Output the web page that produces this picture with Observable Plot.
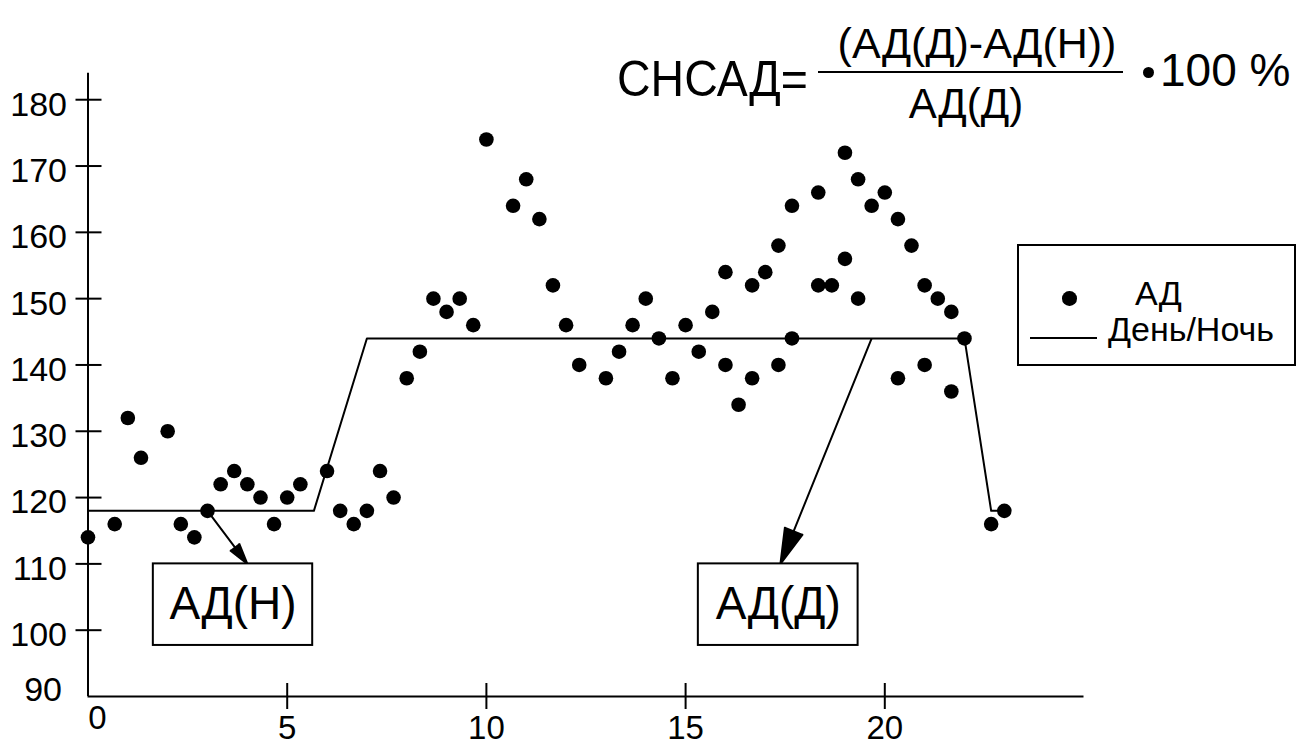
<!DOCTYPE html>
<html><head><meta charset="utf-8">
<script src="https://cdn.jsdelivr.net/npm/d3@7"></script>
<script src="https://cdn.jsdelivr.net/npm/@observablehq/plot@0.6"></script>
<style>
body{margin:0;background:#fff;}
#wrap{position:relative;width:1307px;height:742px;font-family:"Liberation Sans",Arial,sans-serif;color:#000;overflow:hidden;}
.t{position:absolute;line-height:1;white-space:nowrap;}
</style></head><body><div id="wrap"></div>
<script>
// Blood pressure readings (hour of day, mmHg)
const hours = [0,0.67,1,1.33,2,2.33,2.67,3,3.33,3.67,4,4.33,4.67,5,5.33,6,6.33,6.67,7,7.33,7.67,
  8,8.33,8.67,9,9.33,9.67,10,10.67,11,11.33,11.67,12,12.33,13,13.33,13.67,14,14.33,14.67,15,15.33,15.67,
  16,16,16.33,16.67,16.67,17,17.33,17.33,17.67,17.67,18.33,18.33,18.67,19,19,19.33,19.33,19.67,20,
  20.33,20.33,20.67,21,21,21.33,21.67,21.67,22,22.67,23];
const pressure = [114,116,132,126,130,116,114,118,122,124,122,120,116,120,122,124,118,116,118,124,120,
  138,142,150,148,150,146,174,164,168,162,152,146,140,138,142,146,150,144,138,146,142,148,
  154,140,134,152,138,154,158,140,164,144,166,152,152,172,156,168,150,164,166,
  162,138,158,152,140,150,148,136,144,116,118];
// Day / night mean level
const dnHours = [0,5.67,7,22,22.67,23];
const dnLevel = [118,118,144,144,118,118];
// Axes
const xDomain = [0,25];
const yDomain = [90,184];
const xTicks = [5,10,15,20];
const yTicks = [100,110,120,130,140,150,160,170,180];
// Annotation boxes and arrows
const boxLabels = ["АД(Н)","АД(Д)"];
const boxX1 = [1.64,15.32], boxX2 = [5.64,19.33];
const boxY1 = [97.7,97.7], boxY2 = [110,110];
const arrowX1 = [3,19.67], arrowY1 = [118,144];
const arrowX2 = [4,17.38], arrowY2 = [110,110];

const points = hours.map((h,i)=>({h, p: pressure[i]}));
const dayNight = dnHours.map((h,i)=>({h, p: dnLevel[i]}));
const boxes = boxLabels.map((label,i)=>({label, x1: boxX1[i], x2: boxX2[i], y1: boxY1[i], y2: boxY2[i]}));
const arrows = arrowX1.map((x,i)=>({x1: x, y1: arrowY1[i], x2: arrowX2[i], y2: arrowY2[i]}));

const chart = Plot.plot({
  width: 1307, height: 742,
  marginLeft: 87.5, marginRight: 223.5, marginTop: 72.7, marginBottom: 46,
  style: {fontFamily: '"Liberation Sans", Arial, sans-serif', fontSize: "34px", color: "#000", background: "transparent", overflow: "visible"},
  x: {domain: xDomain},
  y: {domain: yDomain},
  marks: [
    Plot.ruleY([yDomain[0]], {x1: xDomain[0], x2: xDomain[1], stroke: "#000", strokeWidth: 2}),
    Plot.ruleX([xDomain[0]], {y1: yDomain[0], y2: yDomain[1], stroke: "#000", strokeWidth: 2}),
    Plot.axisY({ticks: yTicks, tickSize: 26, dx: 14, tickFormat: () => "", strokeWidth: 2}),
    Plot.axisY({ticks: yTicks, tickSize: 0, tickPadding: 21, dy: 5, fontSize: 34}),
    Plot.axisY({ticks: [yDomain[0]], tickSize: 0, tickPadding: 26, dy: -6, fontSize: 34}),
    Plot.axisX({ticks: xTicks, tickSize: 26, dy: -13, tickFormat: () => "", strokeWidth: 2}),
    Plot.axisX({ticks: xTicks, tickSize: 0, tickPadding: 19.5, fontSize: 33}),
    Plot.axisX({ticks: [xDomain[0]], tickSize: 0, tickPadding: 9, dx: 9.5, fontSize: 33}),
    Plot.line(dayNight, {x: "h", y: "p", stroke: "#000", strokeWidth: 2}),
    Plot.dot(points, {x: "h", y: "p", r: 7.3, fill: "#000", stroke: "none"}),
    Plot.arrow(arrows, {x1: "x1", y1: "y1", x2: "x2", y2: "y2", stroke: "#000", fill: "#000", strokeWidth: 2, headLength: 28, headAngle: 30, strokeLinecap: "butt", strokeLinejoin: "miter", strokeMiterlimit: 10}),
    Plot.rect(boxes, {x1: "x1", x2: "x2", y1: "y1", y2: "y2", fill: "#fff", stroke: "#000", strokeWidth: 2}),
    Plot.text(boxes, {x: d => (d.x1 + d.x2) / 2, y: d => (d.y1 + d.y2) / 2, text: "label", fontSize: 46, fill: "#000"})
  ]
});

const wrap = document.getElementById("wrap");
wrap.appendChild(chart);

function addText(txt, left, top, size, extra) {
  const d = document.createElement("div");
  d.className = "t";
  d.textContent = txt;
  d.style.left = left + "px"; d.style.top = top + "px"; d.style.fontSize = size + "px";
  if (extra) Object.assign(d.style, extra);
  wrap.appendChild(d);
  return d;
}
function addBox(left, top, w, h, extra) {
  const d = document.createElement("div");
  d.style.position = "absolute";
  d.style.left = left + "px"; d.style.top = top + "px"; d.style.width = w + "px"; d.style.height = h + "px";
  Object.assign(d.style, extra || {});
  wrap.appendChild(d);
  return d;
}
// Formula
addText("СНСАД=", 617, 53.5, 50, {transform: "scaleX(0.93)", transformOrigin: "0 0"});
addBox(818, 70.5, 305, 2, {background: "#000"});
addText("(АД(Д)-АД(Н))", 777, 21.5, 43, {width: "400px", textAlign: "center"});
addText("АД(Д)", 766, 83, 42, {width: "400px", textAlign: "center"});
addBox(1143, 66.5, 11, 11, {background: "#000", borderRadius: "50%"});
addText("100 %", 1160, 47, 46);
// Legend
addBox(1017, 244, 275, 118, {border: "2px solid #000", background: "#fff"});
addBox(1062, 291, 14.6, 14.6, {background: "#000", borderRadius: "50%"});
addText("АД", 1135, 275.6, 34);
addBox(1030, 337, 67, 2, {background: "#000"});
addText("День/Ночь", 1108, 312.3, 34);
</script></body></html>
